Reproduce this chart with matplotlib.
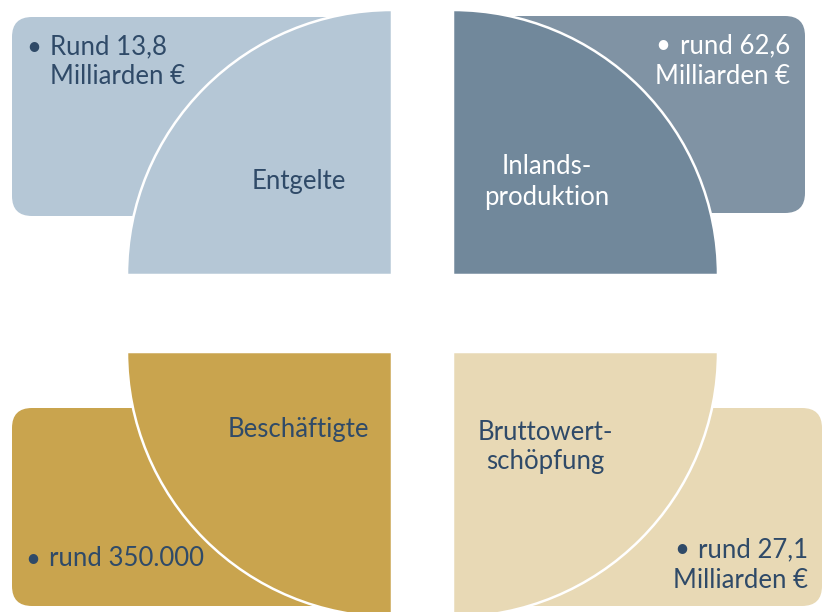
import matplotlib.pyplot as plt
from matplotlib.patches import Wedge, FancyBboxPatch

plt.rcParams['font.family'] = ['Lato', 'DejaVu Sans']

# four segments: title inside the quarter circle, value in the box behind it
titles = ['Entgelte', 'Inlands-\nproduktion', 'Beschäftigte', 'Bruttowert-\nschöpfung']
values = [['Rund 13,8', 'Milliarden €'], ['rund 62,6', 'Milliarden €'],
          ['rund 350.000'], ['rund 27,1', 'Milliarden €']]
circle_colors = ['#B5C7D6', '#71889B', '#C9A44E', '#E8D9B5']
box_colors = ['#B5C7D6', '#8093A4', '#C9A44E', '#E8D9B5']
text_colors = ['#2F4A68', '#FFFFFF', '#2F4A68', '#2F4A68']

# geometry in pixel coords (y downwards)
centers = [(392, 275), (453, 275), (392, 352), (453, 352)]
angles = [(180, 270), (270, 360), (90, 180), (0, 90)]
boxes = [(12, 17, 370, 216), (470, 16, 805, 213), (12, 408, 370, 606), (470, 408, 822, 606)]
radius = 265

fig = plt.figure(figsize=(8.23, 6.12), dpi=100)
ax = fig.add_axes([0, 0, 1, 1])
ax.set_xlim(0, 823)
ax.set_ylim(612, 0)
ax.axis('off')

for i in range(4):
    x0, y0, x1, y1 = boxes[i]
    ax.add_patch(FancyBboxPatch((x0 + 20, y0 + 20), x1 - x0 - 40, y1 - y0 - 40,
                                boxstyle='round,pad=20', fc=box_colors[i], ec='none', zorder=1))
    t1, t2 = angles[i]
    ax.add_patch(Wedge(centers[i], radius, t1, t2, fc=circle_colors[i], ec='white', lw=1.8, zorder=2))

fs = 18.5
# titles
ax.text(299, 182, titles[0], ha='center', va='center', fontsize=fs, color=text_colors[0], zorder=3)
ax.text(547, 182, titles[1], ha='center', va='center', fontsize=fs, color=text_colors[1],
        linespacing=1.25, zorder=3)
ax.text(298, 430, titles[2], ha='center', va='center', fontsize=fs, color=text_colors[2], zorder=3)
ax.text(545, 447, titles[3], ha='center', va='center', fontsize=fs, color=text_colors[3],
        linespacing=1.25, zorder=3)

# values, left aligned with bullet
def bullet_left(x, y, lines, color):
    ax.text(x - 24, y, '•', ha='left', va='center', fontsize=fs, color=color, zorder=3)
    ax.text(x, y + 15 * (len(lines) - 1), '\n'.join(lines), ha='left', va='center',
            fontsize=fs, color=color, linespacing=1.25, zorder=3)

bullet_left(50, 47, values[0], text_colors[0])
bullet_left(49, 559, values[2], text_colors[2])

# right aligned blocks, bullet placed before the first line
for (x, y), vals, col in [((790, 46), values[1], text_colors[1]), ((808, 550), values[3], text_colors[3])]:
    ax.text(x, y, vals[0], ha='right', va='center', fontsize=fs, color=col, zorder=3)
    ax.text(x, y + 30, vals[1], ha='right', va='center', fontsize=fs, color=col, zorder=3)

fig.canvas.draw()
r = fig.canvas.get_renderer()
for t in list(ax.texts):
    if t.get_ha() == 'right' and t.get_text().startswith('rund'):
        bb = t.get_window_extent(r).transformed(ax.transData.inverted())
        x_left = min(bb.x0, bb.x1)
        ax.text(x_left - 24, t.get_position()[1], '•', ha='left', va='center',
                fontsize=fs, color=t.get_color(), zorder=3)

fig.savefig('out.png', dpi=100)
